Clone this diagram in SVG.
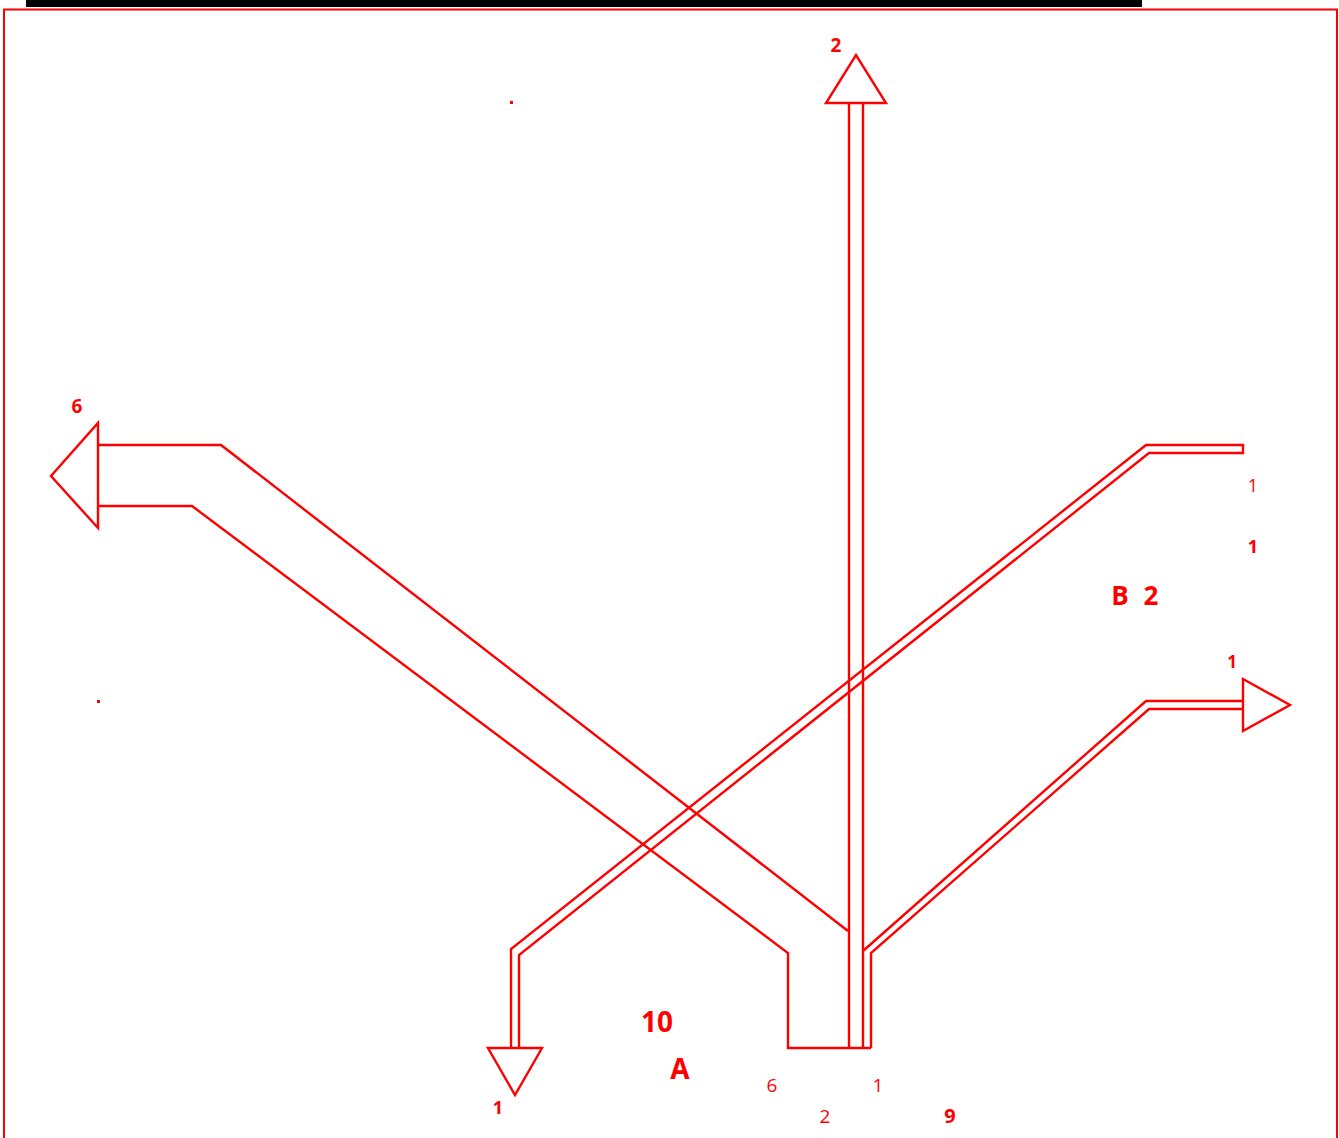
<svg xmlns="http://www.w3.org/2000/svg" width="1339" height="1138" viewBox="0 0 1339 1138">
<style>
.ln{fill:none;stroke:#ff0000;stroke-width:2.4;stroke-linejoin:miter}
.ah{fill:#ffffff;stroke:#ff0000;stroke-width:2.4}
text{font-family:"Open Sans","Liberation Sans",sans-serif;fill:#ff0000;text-anchor:middle}
.b{font-weight:bold}
</style>
<rect x="0" y="0" width="1339" height="1138" fill="#ffffff"/>
<rect x="26" y="0" width="1116" height="7" fill="#000000"/>
<rect x="4" y="9.5" width="1333" height="1140" fill="none" stroke="#ff0000" stroke-width="2"/>
<g id="connectors">
  <g id="pipe-left-6">
    <polyline class="ln" points="98,445 221,445 848,931"/>
    <polyline class="ln" points="98,506 192,506 788,953 788,1048 871,1048"/>
    <polygon class="ah" points="98,423 98,528 51,476"/>
  </g>
  <g id="pipe-up-2">
    <line class="ln" x1="849" y1="103" x2="849" y2="1048"/>
    <line class="ln" x1="863" y1="103" x2="863" y2="1048"/>
    <polygon class="ah" points="826,103 886,103 856,55"/>
  </g>
  <g id="pipe-down-1">
    <polyline class="ln" points="511,1048 511,949 1146,445 1243,445 1243,453 1149,453 519,955 519,1048"/>
    <polygon class="ah" points="488,1048 542,1048 515,1095"/>
  </g>
  <g id="pipe-right-1">
    <polyline class="ln" points="863,951 1146,701 1243,701"/>
    <polyline class="ln" points="871,1048 871,953 1149,709 1243,709"/>
    <polygon class="ah" points="1243,679 1243,731 1290,705"/>
  </g>
</g>
<g id="labels">
  <text class="b" x="836" y="52" font-size="19">2</text>
  <text class="b" x="77" y="413" font-size="19">6</text>
  <text x="1253" y="492" font-size="18">1</text>
  <text class="b" x="1253" y="553" font-size="18">1</text>
  <text class="b" x="1120" y="605" font-size="26">B</text>
  <text class="b" x="1151" y="605" font-size="26">2</text>
  <text class="b" x="1232" y="668" font-size="17">1</text>
  <text class="b" x="498" y="1114" font-size="18">1</text>
  <text class="b" x="657" y="1032" font-size="28">10</text>
  <text class="b" x="680" y="1079" font-size="28">A</text>
  <text x="772" y="1092" font-size="19">6</text>
  <text x="878" y="1092" font-size="19">1</text>
  <text x="825" y="1123" font-size="19">2</text>
  <text class="b" x="950" y="1123" font-size="20">9</text>
</g>
<rect x="510" y="101" width="3" height="3" fill="#ff0000"/>
<rect x="97" y="700" width="3" height="3" fill="#ff0000"/>
</svg>
